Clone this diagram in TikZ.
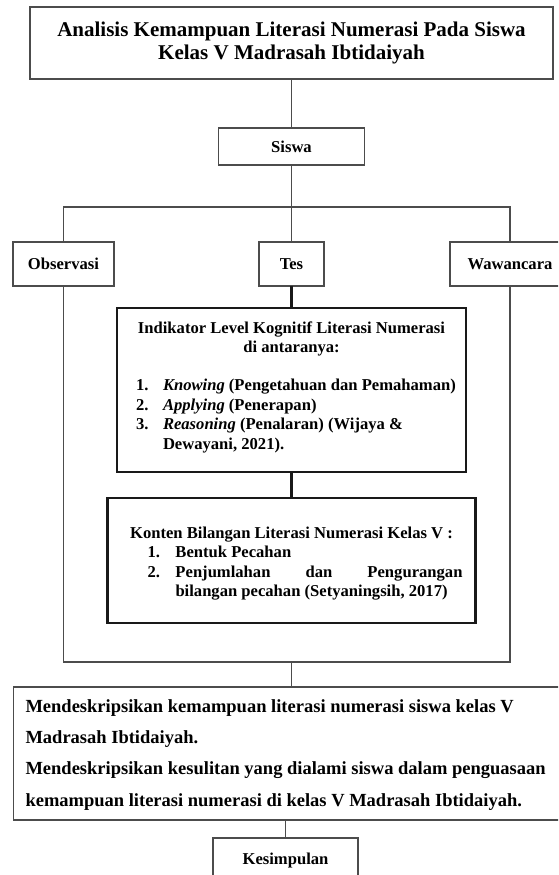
\documentclass[tikz,border=0pt]{standalone}
\usepackage{fontspec}
\setmainfont{Liberation Serif}
\usetikzlibrary{positioning}

\tikzset{
  huruf/.style={font=\bfseries\fontsize{16.6}{19.5}\selectfont, text=black},
  kotak/.style={huruf, draw=black!70, line width=1.2pt, inner sep=0pt, outer sep=0pt, align=center},
  kotaktebal/.style={huruf, draw=black!90, line width=2.2pt, inner sep=0pt, outer sep=0pt},
  garis/.style={draw=black!70, line width=1.2pt},
  garistebal/.style={draw=black!90, line width=2.2pt},
}

\begin{document}
\begin{tikzpicture}[x=1pt,y=1pt]
\useasboundingbox (0,0) rectangle (558,-875);
\clip (0,0) rectangle (558,-875);

\node[kotak, minimum width=523pt, minimum height=72pt, font=\bfseries\fontsize{21}{23.5}\selectfont] (judul) at (291.5,-43) {Analisis Kemampuan Literasi Numerasi Pada Siswa\\Kelas V Madrasah Ibtidaiyah};
\node[kotak, below=49pt of judul, minimum width=146pt, minimum height=37pt] (siswa) {Siswa};
\coordinate[below=42pt of siswa] (cabang);
\node[kotak, below=77pt of siswa, minimum width=65pt, minimum height=44pt] (tes) {Tes};
\node[kotak, left=145pt of tes, minimum width=101pt, minimum height=44pt] (obs) {Observasi};
\node[kotak, right=126pt of tes, minimum width=120pt, minimum height=44pt] (waw) {Wawancara};

\node[kotaktebal, below=22pt of tes] (ind) {\begin{minipage}[c][164pt][t]{349pt}
\vspace*{13.8pt}
\makebox[\linewidth]{Indikator Level Kognitif Literasi Numerasi}\\
\makebox[\linewidth]{di antaranya:}\\[18.5pt]
\hspace*{19pt}\makebox[27pt][l]{1.}\textit{Knowing} (Pengetahuan dan Pemahaman)\\
\hspace*{19pt}\makebox[27pt][l]{2.}\textit{Applying} (Penerapan)\\
\hspace*{19pt}\makebox[27pt][l]{3.}\textit{Reasoning} (Penalaran) (Wijaya \&\\
\hspace*{46pt}Dewayani, 2021).
\end{minipage}};
\node[kotaktebal, below=26pt of ind] (kon) {\begin{minipage}[c][125pt][t]{368pt}
\vspace*{28.8pt}
\makebox[\linewidth]{Konten Bilangan Literasi Numerasi Kelas V :}\\
\hspace*{40pt}\makebox[28pt][l]{1.}Bentuk Pecahan\\
\hspace*{40pt}\makebox[28pt][l]{2.}\makebox[287pt][s]{Penjumlahan\hfill dan\hfill Pengurangan}\\
\hspace*{68pt}bilangan pecahan (Setyaningsih, 2017)
\end{minipage}};
\coordinate[below=39pt of kon] (bawah);

\node[kotak, below=25pt of bawah, font=\bfseries\fontsize{18.5}{31.3}\selectfont] (tuj) {\begin{minipage}[c][133pt][t]{556pt}
\vspace*{12.5pt}
\hspace*{12pt}Mendeskripsikan kemampuan literasi numerasi siswa kelas V\\
\hspace*{12pt}Madrasah Ibtidaiyah.\\
\hspace*{12pt}Mendeskripsikan kesulitan yang dialami siswa dalam penguasaan\\
\hspace*{12pt}kemampuan literasi numerasi di kelas V Madrasah Ibtidaiyah.
\end{minipage}};
\node[kotak, below=18pt of tuj, xshift=-6pt, minimum width=145pt, minimum height=44pt] (kes) {Kesimpulan};

\draw[garis] (judul) -- (siswa);
\draw[garis] (siswa) -- (tes);
\draw[garis] (obs) -- (obs |- cabang) -- (waw |- cabang) -- (waw);
\draw[garistebal] (tes) -- (ind);
\draw[garistebal] (ind) -- (kon);
\draw[garis] (obs) -- (obs |- bawah) -- (waw |- bawah) -- (waw);
\draw[garis] (bawah) -- (tuj);
\draw[garis] (kes.north |- tuj.south) -- (kes);
\end{tikzpicture}
\end{document}
